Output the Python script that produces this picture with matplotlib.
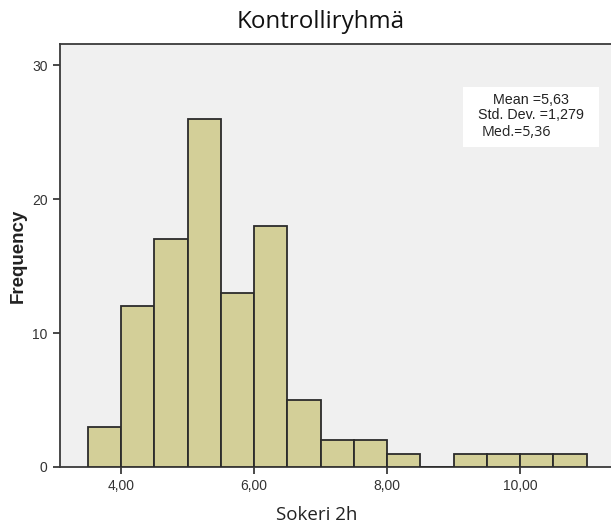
import matplotlib
matplotlib.use("Agg")
import matplotlib.pyplot as plt
from matplotlib.patches import Rectangle

# Histogram bins (left edges) and frequencies for "Sokeri 2h"
bin_edges = [3.5, 4.0, 4.5, 5.0, 5.5, 6.0, 6.5, 7.0, 7.5, 8.0, 8.5, 9.0, 9.5, 10.0, 10.5, 11.0]
counts = [3, 12, 17, 26, 13, 18, 5, 2, 2, 1, 0, 1, 1, 1, 1]
x_ticks = [4, 6, 8, 10]
x_tick_labels = ["4,00", "6,00", "8,00", "10,00"]
y_ticks = [0, 10, 20, 30]
stats_lines = ["Mean =5,63", "Std. Dev. =1,279"]
median_line = "Med.=5,36"

fig = plt.figure(figsize=(6.11, 5.28), dpi=100)
ax = fig.add_axes([60 / 611, 61 / 528, 560 / 611, 423 / 528])
ax.set_facecolor("#f0f0f0")

widths = [b - a for a, b in zip(bin_edges[:-1], bin_edges[1:])]
ax.bar(bin_edges[:-1], counts, width=widths, align="edge",
       color="#d3cf98", edgecolor="#2b2b2b", linewidth=1.3, zorder=3)

ax.set_xlim(3.08, 11.5)
ax.set_ylim(0, 31.6)

for side in ["left", "bottom", "top", "right"]:
    ax.spines[side].set_color("#3a3a3a")
    ax.spines[side].set_linewidth(1.3)

ax.set_xticks(x_ticks)
ax.set_xticklabels(x_tick_labels)
ax.set_yticks(y_ticks)
ax.tick_params(axis="both", direction="out", length=5, width=1.3, color="#3a3a3a",
               labelsize=10, labelcolor="#333333", pad=4)
for lbl in ax.get_xticklabels() + ax.get_yticklabels():
    lbl.set_family("Liberation Sans")

# Axis titles and chart title
fig.text(18 / 611, 1 - 256 / 528, "Frequency", rotation=90, ha="center", va="center",
         fontsize=13.5, fontweight="bold", family="Liberation Sans", color="#222222")
fig.text(317 / 611, 1 - 515 / 528, "Sokeri 2h", ha="center", va="center",
         fontsize=13.5, family="Open Sans", color="#222222")
fig.text(321 / 611, 1 - 22 / 528, "Kontrolliryhmä", ha="center", va="center",
         fontsize=17.4, family="Open Sans", color="#111111")

# Statistics box
fig.patches.append(Rectangle((463 / 611, 1 - 147 / 528), 136 / 611, 60 / 528,
                             transform=fig.transFigure, facecolor="white",
                             edgecolor="none", zorder=5))
fig.text(531 / 611, 1 - 100 / 528, stats_lines[0], ha="center", va="center",
         fontsize=10.3, family="Liberation Sans", color="#222222", zorder=6)
fig.text(531 / 611, 1 - 115 / 528, stats_lines[1], ha="center", va="center",
         fontsize=10.3, family="Liberation Sans", color="#222222", zorder=6)
fig.text(482 / 611, 1 - 132 / 528, median_line, ha="left", va="center",
         fontsize=10.3, family="Open Sans", color="#222222", zorder=6)

fig.savefig("out.png", dpi=100, facecolor="white")
